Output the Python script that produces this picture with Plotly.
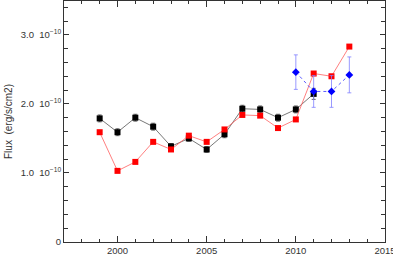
import plotly.graph_objects as go

years_black = [1999, 2000, 2001, 2002, 2003, 2004, 2005, 2006, 2007, 2008, 2009, 2010, 2011]
flux_black = [1.79, 1.59, 1.80, 1.67, 1.385, 1.50, 1.34, 1.56, 1.93, 1.92, 1.80, 1.92, 2.145]
err_black = [0.05, 0.05, 0.05, 0.05, 0.04, 0.04, 0.04, 0.05, 0.05, 0.05, 0.05, 0.05, 0.08]

years_red = [1999, 2000, 2001, 2002, 2003, 2004, 2005, 2006, 2007, 2008, 2009, 2010, 2011, 2012, 2013]
flux_red = [1.59, 1.03, 1.16, 1.45, 1.34, 1.54, 1.45, 1.63, 1.84, 1.83, 1.65, 1.775, 2.44, 2.40, 2.83]

years_blue = [2010, 2011, 2012, 2013]
flux_blue = [2.46, 2.18, 2.18, 2.42]
err_blue = [0.25, 0.23, 0.23, 0.26]

ytick_vals = [0, 1.0, 2.0, 3.0]
ytick_text = ["0", "1.0  10<sup>−10</sup>", "2.0  10<sup>−10</sup>", "3.0  10<sup>−10</sup>"]
xtick_vals = [2000, 2005, 2010, 2015]

fig = go.Figure()
fig.add_trace(go.Scatter(
    x=years_black, y=flux_black, mode="lines+markers",
    line=dict(color="#555555", width=0.8),
    marker=dict(symbol="square", size=6, color="black"),
    error_y=dict(type="data", array=err_black, color="#444444", thickness=0.8, width=2),
))
fig.add_trace(go.Scatter(
    x=years_red, y=flux_red, mode="lines+markers",
    line=dict(color="#ff6060", width=0.8),
    marker=dict(symbol="square", size=6, color="#ff0000"),
))
fig.add_trace(go.Scatter(
    x=years_blue, y=flux_blue, mode="lines+markers",
    line=dict(color="#3030ff", width=0.8, dash="dot"),
    marker=dict(symbol="diamond", size=6, color="#0000ff"),
    error_y=dict(type="data", array=err_blue, color="#8080ff", thickness=0.8, width=2),
))

font = dict(family="Liberation Sans, Arial", size=9.5, color="#333333")
axis_common = dict(showgrid=False, zeroline=False, showline=True, linecolor="#333333",
                   linewidth=1, mirror="ticks", ticks="inside", tickcolor="#333333",
                   tickfont=font, ticklabeloverflow="allow")
fig.update_xaxes(range=[1997.0, 2015.0], tickvals=xtick_vals, ticklen=6,
                 minor=dict(dtick=1, ticks="inside", ticklen=3, tickcolor="#333333"),
                 **axis_common)
fig.update_yaxes(range=[0, 3.49], tickvals=ytick_vals, ticktext=ytick_text, ticklen=5,
                 minor=dict(dtick=0.2, ticks="inside", ticklen=4, tickcolor="#333333"),
                 title=dict(text="Flux  (erg/s/cm2)", standoff=6,
                            font=dict(family="Liberation Sans, Arial", size=10, color="#333333")),
                 **axis_common)
fig.update_layout(width=393, height=256, margin=dict(l=64, r=8, t=0.5, b=14, autoexpand=False),
                  plot_bgcolor="white", paper_bgcolor="white", showlegend=False)
fig.write_html("out.html", config={"displayModeBar": False},
               post_script="document.body.style.margin='0';document.body.style.padding='0';")
